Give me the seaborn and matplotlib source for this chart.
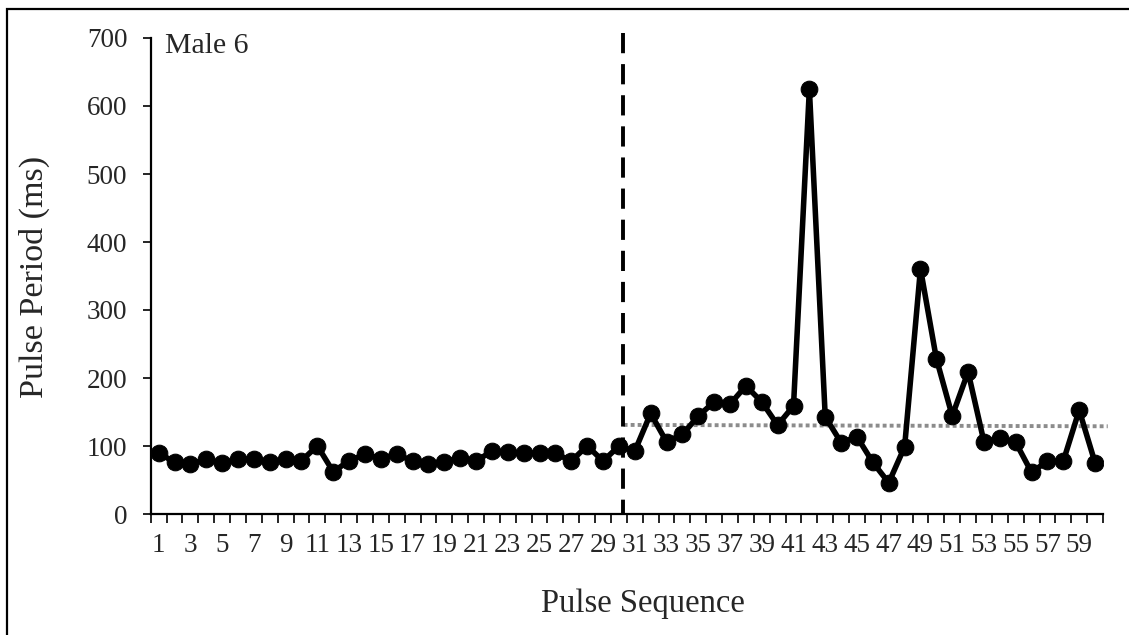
import matplotlib
matplotlib.use("Agg")
import matplotlib.pyplot as plt
from matplotlib.patches import Rectangle
import numpy as np
import pandas as pd
import seaborn as sns

# Pulse periods (ms) for each pulse in the sequence
pulse_number = list(range(1, 61))
pulse_period = [
    90.0, 75.9, 73.4, 80.3, 74.4, 80.8, 80.3, 75.9, 80.8, 78.3,
    100.3, 62.1, 78.3, 87.7, 81.5, 88.1, 77.8, 73.4, 76.8, 82.7,
    77.8, 92.5, 91.5, 89.1, 90.0, 89.1, 77.8, 100.3, 77.8, 99.9,
    92.5, 147.9, 106.2, 117.0, 143.9, 164.9, 161.5, 188.4, 164.9, 130.7,
    159.0, 625.0, 142.9, 105.0, 113.5, 75.9, 46.0, 98.8, 360.8, 228.6,
    144.3, 209.0, 106.2, 111.2, 105.3, 61.2, 77.8, 77.8, 152.7, 75.3,
]

# Onset marker and the reference level over the second phase
onset_position = 30.25
level_x = [30.3, 60.8]
level_y = [131.0, 129.0]

y_ticks = list(range(0, 701, 100))
x_tick_labels = [str(i) for i in range(1, 61, 2)]

df = pd.DataFrame({"Pulse": pulse_number, "Period": pulse_period})

sns.set_style("ticks")
plt.rcParams["font.family"] = ["Liberation Serif", "DejaVu Serif"]

W, H = 1129, 635
fig = plt.figure(figsize=(W / 100, H / 100), dpi=100)
ax = fig.add_axes([150.7 / W, 1 - 514 / H, (1103 - 150.7) / W, (514 - 38) / H])

sns.lineplot(data=df, x="Pulse", y="Period", ax=ax, color="black",
             linewidth=4.0, marker="o", markersize=12,
             markeredgecolor="black", markerfacecolor="black", zorder=3)

ax.plot(level_x, level_y, color="#8c8c8c", linewidth=2.8,
        linestyle=(0, (1.0, 0.8)), dash_capstyle="butt", clip_on=False, zorder=2)

ax.plot([onset_position, onset_position], [708, 0], color="black",
        linewidth=2.8, linestyle=(0, (5.2, 2.8)), dash_capstyle="butt",
        clip_on=False, zorder=4)

ax.set_xlim(0.5, 60.5)
ax.set_ylim(0, 700)
ax.set_yticks(y_ticks)
ax.set_xticks(list(range(1, 61, 2)))
ax.set_xticklabels(x_tick_labels)
ax.set_xticks(np.arange(0.5, 61, 1.0), minor=True)

ax.tick_params(axis="x", which="major", length=0, pad=14, labelsize=19.5)
ax.tick_params(axis="x", which="minor", length=6.5, width=1.2,
               direction="out", color="black")
ax.tick_params(axis="y", which="major", length=5.8, width=1.2,
               direction="out", pad=11, labelsize=19.5, color="black")

for side in ("top", "right"):
    ax.spines[side].set_visible(False)
for side in ("left", "bottom"):
    ax.spines[side].set_linewidth(1.6)
    ax.spines[side].set_color("black")

ax.set_xlabel("")
ax.set_ylabel("")
fig.text(643 / W, 1 - 604 / H, "Pulse Sequence", fontsize=23.5,
         ha="center", va="center")
fig.text(34 / W, 1 - 277 / H, "Pulse Period (ms)", fontsize=24.5,
         ha="center", va="center", rotation=90)

ax.text((165 - 150.7) / (1103 - 150.7), (514 - 53) / 476, "Male 6",
        transform=ax.transAxes, fontsize=21.5, ha="left", va="baseline")

# Frame around the chart area
fig.patches.append(Rectangle((7 / W, -0.2), 1.2, 1 - 9.5 / H + 0.2,
                             transform=fig.transFigure, fill=False,
                             edgecolor="black", linewidth=1.6, clip_on=False))

fig.savefig("out.png", dpi=100, facecolor="white")
